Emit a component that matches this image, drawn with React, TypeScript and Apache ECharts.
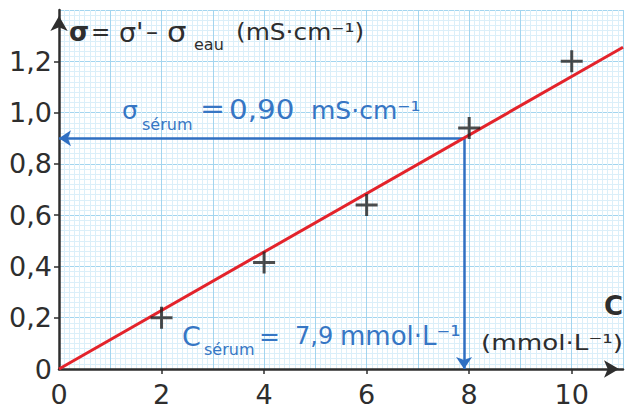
import React, { useEffect, useRef } from 'react';
import * as echarts from 'echarts';

const xTickLabels = [0, 2, 4, 6, 8, 10];
const xTicks = [2, 4, 6, 8, 10];
const yTickLabels = [0, 0.2, 0.4, 0.6, 0.8, 1.0, 1.2];
const yTicks = [0.2, 0.4, 0.6, 0.8, 1.0, 1.2];
const concentrations = [2, 4, 6, 8, 10];
const conductivities = [0.2, 0.415, 0.64, 0.94, 1.2];
const fitLine = [
  [0, 0],
  [11, 1.255],
];
const serumC = 7.9;
const serumSigma = 0.9;

const FONT = '"DejaVu Sans", sans-serif';
const DARK = '#2e2e2e';
const BLUE = '#2f6fc2';
const TBLUE = '#3676c4';

function txt(
  x: number,
  y: number,
  text: string,
  size: number,
  color: string,
  opts: { bold?: boolean; align?: string; sx?: number } = {}
) {
  return {
    type: 'text',
    x,
    y,
    z: 50,
    scaleX: opts.sx ?? 1,
    style: {
      text,
      fill: color,
      font: `${opts.bold ? 'bold ' : ''}${size}px ${FONT}`,
      textAlign: opts.align ?? 'left',
      textVerticalAlign: 'middle',
    },
  };
}

export default function App() {
  const ref = useRef<HTMLDivElement>(null);
  useEffect(() => {
    const chart = echarts.init(ref.current!, null, { renderer: 'svg' });
    const axisLineStyle = { color: DARK, width: 2.5 };
    chart.setOption({
      animation: false,
      backgroundColor: '#ffffff',
      grid: { left: 59, right: 2, top: 10, bottom: 41, containLabel: false },
      xAxis: [
        {
          type: 'value',
          min: 0,
          max: 11,
          interval: 1,
          axisLine: { show: false },
          axisTick: { show: false },
          axisLabel: { show: false },
          splitLine: { show: true, lineStyle: { color: '#a3d5ef', width: 1 } },
          minorTick: { show: false, splitNumber: 10 },
          minorSplitLine: { show: true, lineStyle: { color: '#dbeff9', width: 1 } },
        },
        {
          type: 'value',
          min: 0,
          max: 11,
          interval: 1,
          position: 'bottom',
          axisLine: {
            show: true,
            onZero: false,
            symbol: ['none', 'arrow'],
            symbolSize: [13, 15],
            symbolOffset: [0, -4],
            lineStyle: axisLineStyle,
          },
          axisTick: { show: true, customValues: xTicks, length: 5, lineStyle: { color: DARK, width: 1.5 } },
          axisLabel: {
            show: true,
            customValues: xTickLabels,
            formatter: (v: number) => String(v),
            fontSize: 27,
            fontFamily: FONT,
            color: DARK,
            margin: 12,
          },
          splitLine: { show: false },
        },
      ],
      yAxis: [
        {
          type: 'value',
          min: 0,
          max: 1.4,
          interval: 0.2,
          axisLine: { show: false },
          axisTick: { show: false },
          axisLabel: { show: false },
          splitLine: { show: true, lineStyle: { color: '#a3d5ef', width: 1 } },
          minorTick: { show: false, splitNumber: 10 },
          minorSplitLine: { show: true, lineStyle: { color: '#dbeff9', width: 1 } },
        },
        {
          type: 'value',
          min: 0,
          max: 1.4,
          interval: 0.2,
          position: 'left',
          axisLine: {
            show: true,
            onZero: false,
            symbol: ['none', 'arrow'],
            symbolSize: [13, 15],
            symbolOffset: [0, -6],
            lineStyle: axisLineStyle,
          },
          axisTick: { show: true, customValues: yTicks, length: 5, lineStyle: { color: DARK, width: 1.5 } },
          axisLabel: {
            show: true,
            customValues: yTickLabels,
            formatter: (v: number) => (v === 0 ? '0' : v.toFixed(1).replace('.', ',')),
            fontSize: 27,
            fontFamily: FONT,
            color: DARK,
            margin: 7,
          },
          splitLine: { show: false },
        },
      ],
      series: [
        {
          type: 'line',
          xAxisIndex: 1,
          yAxisIndex: 1,
          data: fitLine,
          symbol: 'none',
          clip: false,
          z: 4,
          lineStyle: { color: '#e3232b', width: 3 },
          markLine: {
            silent: true,
            symbol: ['none', 'arrow'],
            symbolSize: 12,
            label: { show: false },
            lineStyle: { color: BLUE, width: 2.5, type: 'solid' },
            z: 3,
            data: [
              [{ coord: [serumC, serumSigma] }, { coord: [0, serumSigma] }],
              [{ coord: [serumC, serumSigma] }, { coord: [serumC, 0] }],
            ],
          },
        },
        {
          type: 'scatter',
          xAxisIndex: 1,
          yAxisIndex: 1,
          data: concentrations.map((c, i) => [c, conductivities[i]]),
          symbol: 'path://M9.5,0 H12.5 V9.5 H22 V12.5 H12.5 V22 H9.5 V12.5 H0 V9.5 H9.5 Z',
          symbolSize: 22,
          z: 5,
          itemStyle: { color: '#222222' },
        },
      ],
      graphic: [
        txt(69, 32, 'σ', 26, DARK, { bold: true }),
        txt(91, 32, '=', 23, DARK),
        txt(119, 32, "σ'", 27, DARK),
        txt(146, 32, '–', 24, DARK),
        txt(167, 32, 'σ', 28, DARK, { sx: 1.1 }),
        txt(194, 44, 'eau', 16, DARK),
        txt(236, 32, '(mS·cm⁻¹)', 23, DARK, { sx: 1.08 }),
        txt(122, 110, 'σ', 25, TBLUE),
        txt(142, 124, 'sérum', 16, TBLUE),
        txt(200, 109, '=', 26, TBLUE, { sx: 1.15 }),
        txt(229, 110, '0,90', 26, TBLUE, { sx: 1.13 }),
        txt(311, 110, 'mS·cm⁻¹', 25, TBLUE),
        txt(182, 336, 'C', 27, TBLUE),
        txt(204, 349, 'sérum', 16, TBLUE),
        txt(259, 336, '=', 25, TBLUE),
        txt(295, 336, '7,9', 24, TBLUE),
        txt(340, 336, 'mmol·L⁻¹', 26, TBLUE),
        txt(623, 306, 'C', 26, DARK, { bold: true, align: 'right' }),
        txt(481, 343, '(mmol·L⁻¹)', 22, DARK, { sx: 1.19 }),
      ],
    });
    return () => chart.dispose();
  }, []);
  return (
    <div
      ref={ref}
      style={{ position: 'fixed', left: 0, top: 0, width: 625, height: 410, background: '#fff' }}
    />
  );
}
